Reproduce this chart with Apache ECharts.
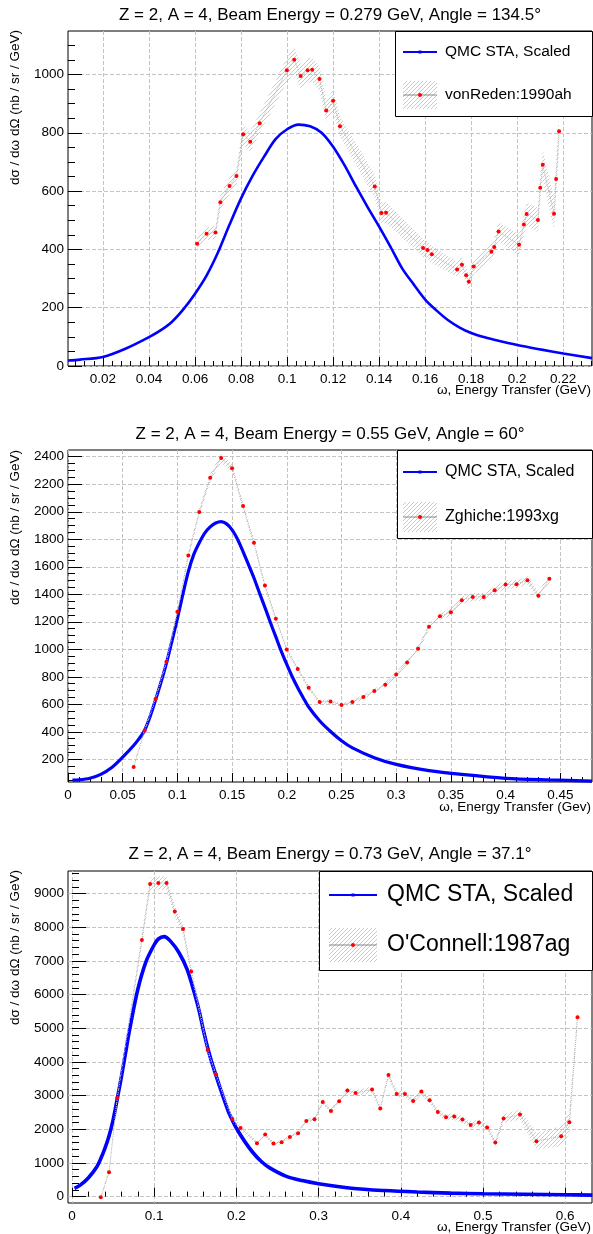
<!DOCTYPE html>
<html>
<head>
<meta charset="utf-8">
<title>He-4 quasielastic cross sections</title>
<script src="https://cdn.jsdelivr.net/npm/echarts/dist/echarts.min.js"></script>
<style>
  html, body { margin: 0; padding: 0; background: #fff; }
  #chart { width: 593px; height: 1234px; }
</style>
</head>
<body>
<div id="chart"></div>
<script>
// ---------- Panel 1: E = 0.279 GeV, theta = 134.5 deg ----------
const p1Title = 'Z = 2, A = 4, Beam Energy = 0.279 GeV, Angle = 134.5°';
const p1DataName = 'vonReden:1990ah';
const p1QmcX = [0.0048, 0.01, 0.02, 0.03, 0.04, 0.045, 0.05, 0.055, 0.06, 0.065, 0.07, 0.075, 0.08, 0.085, 0.09, 0.095, 0.1, 0.105, 0.11, 0.115, 0.12, 0.125, 0.13, 0.135, 0.14, 0.145, 0.15, 0.155, 0.16, 0.165, 0.17, 0.175, 0.18, 0.185, 0.19, 0.2, 0.21, 0.22, 0.2325];
const p1QmcY = [19, 22, 31, 60, 99, 122, 152, 195, 248, 310, 390, 485, 575, 652, 718, 778, 812, 828, 822, 800, 752, 688, 615, 545, 478, 408, 335, 280, 228, 190, 157, 132, 113, 100, 90, 72, 57, 43, 27];
const p1DataX = [0.0609, 0.0650, 0.0689, 0.0710, 0.0750, 0.0780, 0.0809, 0.0840, 0.0881, 0.0999, 0.1031, 0.1059, 0.1089, 0.1109, 0.1141, 0.1170, 0.1200, 0.1230, 0.1381, 0.1410, 0.1430, 0.1591, 0.1610, 0.1629, 0.1739, 0.1760, 0.1778, 0.1790, 0.1811, 0.1888, 0.1900, 0.1919, 0.2008, 0.2029, 0.2041, 0.2090, 0.2100, 0.2111, 0.2160, 0.2169, 0.2182];
const p1DataY = [419, 454, 458, 562, 617, 652, 795, 769, 833, 1014, 1050, 995, 1014, 1016, 984, 876, 910, 822, 616, 525, 526, 405, 398, 383, 331, 347, 311, 289, 341, 392, 408, 461, 416, 485, 521, 501, 611, 690, 522, 641, 805];
const p1DataErr = [22, 22, 22, 25, 28, 28, 35, 35, 35, 42, 45, 42, 42, 42, 42, 38, 38, 35, 40, 36, 36, 30, 30, 30, 26, 26, 26, 26, 26, 30, 30, 32, 36, 38, 40, 42, 48, 52, 55, 60, 65];
const p1XTicks = [0.02, 0.04, 0.06, 0.08, 0.1, 0.12, 0.14, 0.16, 0.18, 0.2, 0.22];
const p1YTicks = [0, 200, 400, 600, 800, 1000];

// ---------- Panel 2: E = 0.55 GeV, theta = 60 deg ----------
const p2Title = 'Z = 2, A = 4, Beam Energy = 0.55 GeV, Angle = 60°';
const p2DataName = 'Zghiche:1993xg';
const p2QmcX = [0.004, 0.01, 0.02, 0.03, 0.04, 0.05, 0.06, 0.065, 0.07, 0.075, 0.08, 0.085, 0.09, 0.095, 0.1, 0.105, 0.11, 0.115, 0.12, 0.125, 0.13, 0.135, 0.14, 0.145, 0.15, 0.155, 0.16, 0.165, 0.17, 0.175, 0.18, 0.185, 0.19, 0.195, 0.2, 0.205, 0.21, 0.215, 0.22, 0.23, 0.24, 0.25, 0.26, 0.28, 0.3, 0.33, 0.36, 0.4, 0.44, 0.479];
const p2QmcY = [48, 50, 62, 90, 140, 215, 300, 350, 410, 510, 631, 760, 900, 1060, 1222, 1400, 1565, 1690, 1775, 1845, 1890, 1918, 1928, 1912, 1868, 1800, 1710, 1615, 1518, 1410, 1305, 1195, 1090, 985, 890, 800, 720, 648, 580, 480, 402, 335, 283, 212, 163, 118, 90, 62, 50, 42];
const p2DataX = [0.06, 0.07, 0.08, 0.09, 0.10, 0.11, 0.12, 0.13, 0.14, 0.15, 0.16, 0.17, 0.18, 0.19, 0.20, 0.21, 0.22, 0.23, 0.24, 0.25, 0.26, 0.27, 0.28, 0.29, 0.30, 0.31, 0.32, 0.33, 0.34, 0.35, 0.36, 0.37, 0.38, 0.39, 0.40, 0.41, 0.42, 0.43, 0.44];
const p2DataY = [144, 410, 639, 909, 1273, 1682, 1999, 2247, 2390, 2317, 2042, 1775, 1463, 1222, 999, 857, 721, 617, 621, 595, 617, 653, 697, 743, 816, 904, 1003, 1164, 1240, 1269, 1356, 1381, 1381, 1429, 1471, 1473, 1502, 1390, 1512];
const p2DataErr = [15, 15, 15, 18, 22, 25, 28, 30, 32, 30, 28, 25, 22, 20, 18, 17, 15, 15, 15, 15, 15, 16, 16, 17, 18, 20, 22, 25, 25, 25, 28, 28, 28, 30, 30, 30, 30, 30, 32];
const p2XTicks = [0, 0.05, 0.1, 0.15, 0.2, 0.25, 0.3, 0.35, 0.4, 0.45];
const p2YTicks = [200, 400, 600, 800, 1000, 1200, 1400, 1600, 1800, 2000, 2200, 2400];

// ---------- Panel 3: E = 0.73 GeV, theta = 37.1 deg ----------
const p3Title = 'Z = 2, A = 4, Beam Energy = 0.73 GeV, Angle = 37.1°';
const p3DataName = "O'Connell:1987ag";
const p3QmcX = [0.003, 0.01, 0.02, 0.03, 0.035, 0.04, 0.045, 0.05, 0.055, 0.06, 0.065, 0.07, 0.08, 0.09, 0.1, 0.105, 0.112, 0.12, 0.13, 0.14, 0.15, 0.155, 0.16, 0.165, 0.17, 0.175, 0.18, 0.19, 0.195, 0.2, 0.21, 0.22, 0.23, 0.24, 0.26, 0.28, 0.3, 0.34, 0.38, 0.42, 0.46, 0.5, 0.55, 0.6, 0.633];
const p3QmcY = [245, 340, 560, 880, 1130, 1430, 1800, 2280, 2900, 3550, 4250, 4950, 6150, 6980, 7480, 7650, 7720, 7580, 7250, 6750, 5950, 5480, 4920, 4420, 3990, 3610, 3240, 2540, 2270, 2030, 1640, 1310, 1050, 860, 610, 475, 383, 250, 180, 135, 103, 85, 70, 55, 45];
const p3DataX = [0.035, 0.045, 0.055, 0.085, 0.095, 0.105, 0.115, 0.125, 0.135, 0.145, 0.165, 0.175, 0.195, 0.205, 0.225, 0.235, 0.245, 0.255, 0.265, 0.275, 0.285, 0.295, 0.305, 0.315, 0.325, 0.335, 0.345, 0.365, 0.375, 0.385, 0.395, 0.405, 0.415, 0.425, 0.435, 0.445, 0.455, 0.465, 0.475, 0.485, 0.495, 0.505, 0.515, 0.525, 0.545, 0.565, 0.595, 0.605, 0.615];
const p3DataY = [-20, 723, 2930, 7623, 9286, 9316, 9316, 8465, 7950, 6683, 4356, 3633, 2307, 2039, 1584, 1841, 1574, 1614, 1772, 1881, 2247, 2297, 2812, 2544, 2831, 3148, 3079, 3178, 2614, 3614, 3049, 3049, 2841, 3119, 2861, 2515, 2356, 2376, 2287, 2129, 2198, 2049, 1604, 2317, 2435, 1643, 1792, 2208, 5326];
const p3DataErr = [50, 50, 100, 200, 200, 200, 200, 180, 170, 150, 100, 90, 70, 70, 60, 60, 60, 60, 60, 60, 70, 70, 80, 80, 80, 90, 90, 90, 90, 100, 90, 90, 90, 90, 90, 90, 90, 100, 100, 100, 100, 100, 100, 130, 150, 250, 300, 350, 200];
const p3XTicks = [0, 0.1, 0.2, 0.3, 0.4, 0.5, 0.6];
const p3YTicks = [0, 1000, 2000, 3000, 4000, 5000, 6000, 7000, 8000, 9000];

const qmcName = 'QMC STA, Scaled';
const yTitle = 'dσ / dω dΩ (nb / sr / GeV)';

// ---------- styling helpers ----------
const FONT = '"Liberation Sans", Arial, Helvetica, sans-serif';
const FRAME = '#000';
const GRIDLINE = '#c4c4c4';

function hatchCanvas(color, step) {
  const c = document.createElement('canvas');
  c.width = step; c.height = step;
  const g = c.getContext('2d');
  g.strokeStyle = color;
  g.lineWidth = 0.8;
  g.beginPath();
  g.moveTo(0, step); g.lineTo(step, 0);
  g.moveTo(-1, 1); g.lineTo(1, -1);
  g.moveTo(step - 1, step + 1); g.lineTo(step + 1, step - 1);
  g.stroke();
  return c;
}
const hatchFill = { image: hatchCanvas('#bdbdbd', 4), repeat: 'repeat' };

function between(min, max, step, majorStep) {
  const out = [];
  const k0 = Math.ceil(min / step - 1e-9), k1 = Math.floor(max / step + 1e-9);
  for (let k = k0; k <= k1; k++) {
    const v = +(k * step).toFixed(6);
    const r = v / majorStep;
    if (Math.abs(r - Math.round(r)) > 1e-6) out.push(v);
  }
  return out;
}

const fmt = v => String(+(+v).toFixed(6));

function xAxisPair(grid, min, max, majors, minorStep, majorStep) {
  return [
    { type: 'value', gridIndex: grid, min: min, max: max, position: 'bottom',
      axisLine: { show: false },
      axisTick: { show: true, inside: true, length: 9, customValues: majors, lineStyle: { color: FRAME, width: 1 } },
      axisLabel: { show: true, customValues: majors, formatter: fmt, fontFamily: FONT, fontSize: 13.5, color: '#000', margin: 6 },
      splitLine: { show: true, lineStyle: { color: GRIDLINE, width: 1, type: [4, 2] } } },
    { type: 'value', gridIndex: grid, min: min, max: max, position: 'bottom',
      axisLine: { show: false },
      axisTick: { show: true, inside: true, length: 5, customValues: between(min, max, minorStep, majorStep), lineStyle: { color: FRAME, width: 1 } },
      axisLabel: { show: false }, splitLine: { show: false } }
  ];
}

function yAxisPair(grid, min, max, majors, minorStep, majorStep) {
  return [
    { type: 'value', gridIndex: grid, min: min, max: max, position: 'left',
      axisLine: { show: false },
      axisTick: { show: true, inside: true, length: 14, customValues: majors, lineStyle: { color: FRAME, width: 1 } },
      axisLabel: { show: true, customValues: majors, formatter: fmt, fontFamily: FONT, fontSize: 13.5, color: '#000', margin: 4 },
      splitLine: { show: true, lineStyle: { color: GRIDLINE, width: 1, type: [4, 2] } } },
    { type: 'value', gridIndex: grid, min: min, max: max, position: 'left',
      axisLine: { show: false },
      axisTick: { show: true, inside: true, length: 7, customValues: between(min, max, minorStep, majorStep), lineStyle: { color: FRAME, width: 1 } },
      axisLabel: { show: false }, splitLine: { show: false } }
  ];
}

function qmcSeries(axisIdx, xs, ys, width) {
  return { type: 'line', name: qmcName, xAxisIndex: axisIdx, yAxisIndex: axisIdx,
    data: xs.map((x, i) => [x, ys[i]]), showSymbol: false, smooth: 0.3,
    lineStyle: { color: '#0000ff', width: width }, z: 2, silent: true };
}

function bandSeries(axisIdx, xs, ys, es) {
  return { type: 'custom', xAxisIndex: axisIdx, yAxisIndex: axisIdx, clip: true, z: 3, silent: true,
    data: xs.map((x, i) => [x, ys[i]]),
    renderItem: function (params, api) {
      if (params.dataIndex !== 0) return null;
      const upper = xs.map((x, i) => api.coord([x, ys[i] + es[i]]));
      const lower = xs.map((x, i) => api.coord([x, ys[i] - es[i]])).reverse();
      return { type: 'polygon', shape: { points: upper.concat(lower) },
        style: { fill: hatchFill, stroke: null } };
    } };
}

function dataSeries(axisIdx, name, xs, ys) {
  return { type: 'line', name: name, xAxisIndex: axisIdx, yAxisIndex: axisIdx,
    data: xs.map((x, i) => [x, ys[i]]), showSymbol: true, symbol: 'circle', symbolSize: 4,
    itemStyle: { color: '#ff0000', borderWidth: 0 },
    lineStyle: { color: '#b4b4b4', width: 1, type: 'dotted' }, z: 4, silent: true };
}

// ---------- panel geometry ----------
const panels = [
  { top: 31,  height: 335, xMin: 0.0048, xMax: 0.2325, yMin: 0,    yMax: 1149,
    xT: p1XTicks, yT: p1YTicks, xMinor: 0.004, xMajor: 0.02, yMinor: 50, yMajor: 200 },
  { top: 450, height: 332, xMin: 0,      xMax: 0.479,  yMin: 35,   yMax: 2449,
    xT: p2XTicks, yT: p2YTicks, xMinor: 0.01, xMajor: 0.05, yMinor: 50, yMajor: 200 },
  { top: 871, height: 332, xMin: -0.0049, xMax: 0.6326, yMin: -190, yMax: 9670,
    xT: p3XTicks, yT: p3YTicks, xMinor: 0.02, xMajor: 0.1, yMinor: 200, yMajor: 1000 }
];

const grids = panels.map(p => ({ left: 68, width: 524, top: p.top, height: p.height, show: true,
  borderColor: FRAME, borderWidth: 1, backgroundColor: '#fff', containLabel: false, outerBoundsMode: 'none' }));

const xAxes = [], yAxes = [];
panels.forEach((p, g) => {
  xAxes.push(...xAxisPair(g, p.xMin, p.xMax, p.xT, p.xMinor, p.xMajor));
  yAxes.push(...yAxisPair(g, p.yMin, p.yMax, p.yT, p.yMinor, p.yMajor));
});

const series = [
  qmcSeries(0, p1QmcX, p1QmcY, 2.6),
  bandSeries(0, p1DataX, p1DataY, p1DataErr),
  dataSeries(0, p1DataName, p1DataX, p1DataY),
  qmcSeries(2, p2QmcX, p2QmcY, 3.2),
  bandSeries(2, p2DataX, p2DataY, p2DataErr),
  dataSeries(2, p2DataName, p2DataX, p2DataY),
  qmcSeries(4, p3QmcX, p3QmcY, 3.6),
  bandSeries(4, p3DataX, p3DataY, p3DataErr),
  dataSeries(4, p3DataName, p3DataX, p3DataY)
];

// ---------- titles, axis titles and legends ----------
function txt(x, y, text, size, align, vAlign, extra) {
  return Object.assign({ type: 'text', x: x, y: y, z: 100, silent: true,
    style: { text: text, fill: '#000', fontFamily: FONT, fontSize: size,
      align: align, textAlign: align, verticalAlign: vAlign, textVerticalAlign: vAlign } }, extra || {});
}

function legend(box, e1y, e2y, sample, textX, size, dataName, hatchH) {
  const els = [];
  els.push({ type: 'rect', z: 90, silent: true, shape: { x: box.x + 0.5, y: box.y + 0.5, width: box.w, height: box.h },
    style: { fill: '#fff', stroke: '#000', lineWidth: 1 } });
  const mid = (sample[0] + sample[1]) / 2;
  els.push({ type: 'line', z: 91, silent: true, shape: { x1: sample[0], y1: e1y, x2: sample[1], y2: e1y },
    style: { stroke: '#0000ff', lineWidth: 2 } });
  els.push({ type: 'rect', z: 92, silent: true, shape: { x: mid - 1.5, y: e1y - 1.5, width: 3, height: 3 },
    style: { fill: '#0000ff' } });
  els.push(txt(textX, e1y, qmcName, size, 'left', 'middle'));
  els.push({ type: 'rect', z: 91, silent: true, shape: { x: sample[0], y: e2y - hatchH / 2, width: sample[1] - sample[0], height: hatchH },
    style: { fill: hatchFill } });
  els.push({ type: 'line', z: 92, silent: true, shape: { x1: sample[0], y1: e2y, x2: sample[1], y2: e2y },
    style: { stroke: '#888', lineWidth: 1 } });
  els.push({ type: 'circle', z: 93, silent: true, shape: { cx: mid, cy: e2y, r: 2 }, style: { fill: '#ff0000' } });
  els.push(txt(textX, e2y, dataName, size, 'left', 'middle'));
  return els;
}

const graphics = [
  txt(330, 15, p1Title, 17, 'center', 'middle'),
  txt(330, 434, p2Title, 17, 'center', 'middle'),
  txt(330, 854, p3Title, 17, 'center', 'middle'),
  txt(591, 390, 'ω, Energy Transfer (GeV)', 13.5, 'right', 'middle'),
  txt(591, 807, 'ω, Energy Transfer (Gev)', 13.5, 'right', 'middle'),
  txt(591, 1227, 'ω, Energy Transfer (GeV)', 13.5, 'right', 'middle'),
  txt(15, 30, yTitle, 13.5, 'right', 'middle', { rotation: Math.PI / 2 }),
  txt(15, 450, yTitle, 13.5, 'right', 'middle', { rotation: Math.PI / 2 }),
  txt(15, 870, yTitle, 13.5, 'right', 'middle', { rotation: Math.PI / 2 }),
  ...legend({ x: 395, y: 31, w: 197, h: 85 }, 52, 95, [403, 437], 445, 15.5, p1DataName, 28),
  ...legend({ x: 397, y: 450, w: 195, h: 88 }, 472, 517, [403, 437], 445, 16, p2DataName, 30),
  ...legend({ x: 319, y: 871, w: 273, h: 99 }, 895, 945, [329, 377], 387, 23, p3DataName, 34)
];

const chart = echarts.init(document.getElementById('chart'), null, { renderer: 'canvas' });
chart.setOption({
  animation: false,
  backgroundColor: '#fff',
  textStyle: { fontFamily: FONT },
  grid: grids,
  xAxis: xAxes,
  yAxis: yAxes,
  series: series,
  graphic: { elements: graphics }
});
</script>
</body>
</html>
